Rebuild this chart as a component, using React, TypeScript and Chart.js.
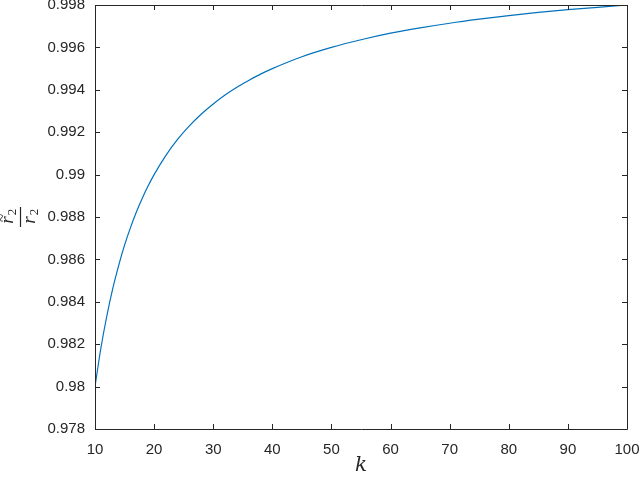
import React, { useEffect, useRef } from "react";
import { Chart, registerables } from "chart.js";

Chart.register(...registerables);

const kValues = [10, 11, 12, 13, 14, 15, 16, 17, 18, 19, 20, 22, 24, 26, 28, 30, 32, 34, 36, 38, 40, 45, 50, 55, 60, 65, 70, 75, 80, 85, 90, 95, 100];
const ratioValues = [0.98, 0.98182, 0.98333, 0.98462, 0.98571, 0.98667, 0.9875, 0.98824, 0.98889, 0.98947, 0.99, 0.99091, 0.99167, 0.99231, 0.99286, 0.99333, 0.99375, 0.99412, 0.99444, 0.99474, 0.995, 0.99556, 0.996, 0.99636, 0.99667, 0.99692, 0.99714, 0.99733, 0.9975, 0.99765, 0.99778, 0.99789, 0.998];
const xTicks = [10, 20, 30, 40, 50, 60, 70, 80, 90, 100];
const yTicks = [0.978, 0.98, 0.982, 0.984, 0.986, 0.988, 0.99, 0.992, 0.994, 0.996, 0.998];

const AXIS_COLOR = "#262626";
const TICK_FONT = "'Liberation Sans', Arial, sans-serif";

const boxPlugin = {
  id: "matlabBox",
  afterDraw(chart: any) {
    const { ctx, chartArea } = chart;
    const { left, right, top, bottom } = chartArea;
    const xs = chart.scales.x;
    const ys = chart.scales.y;
    ctx.save();
    ctx.strokeStyle = AXIS_COLOR;
    ctx.lineWidth = 1;
    ctx.beginPath();
    ctx.rect(Math.round(left) + 0.5, Math.round(top) + 0.5, Math.round(right - left), Math.round(bottom - top));
    ctx.stroke();
    const tl = 5;
    ctx.beginPath();
    xTicks.forEach((t) => {
      const px = Math.round(xs.getPixelForValue(t)) + 0.5;
      ctx.moveTo(px, bottom);
      ctx.lineTo(px, bottom - tl);
      ctx.moveTo(px, top);
      ctx.lineTo(px, top + tl);
    });
    yTicks.forEach((t) => {
      const py = Math.round(ys.getPixelForValue(t)) + 0.5;
      ctx.moveTo(left, py);
      ctx.lineTo(left + tl, py);
      ctx.moveTo(right, py);
      ctx.lineTo(right - tl, py);
    });
    ctx.stroke();

    // x label
    ctx.fillStyle = AXIS_COLOR;
    ctx.font = "italic 20px 'DejaVu Serif', 'Liberation Serif', serif";
    ctx.textAlign = "center";
    ctx.textBaseline = "middle";
    ctx.fillText("k", (left + right) / 2, 466);

    // y label: fraction r̃2 / r2 rotated
    const cy = (top + bottom) / 2;
    ctx.translate(20, cy);
    ctx.rotate(-Math.PI / 2);
    ctx.textBaseline = "alphabetic";
    ctx.textAlign = "center";
    // numerator
    ctx.font = "italic 19px 'Liberation Serif', serif";
    ctx.fillText("r", -3, -7);
    ctx.font = "15px 'Liberation Serif', serif";
    ctx.fillText("~", -1, -13);
    ctx.font = "13px 'Liberation Serif', serif";
    ctx.fillText("2", 5, -4);
    // denominator
    ctx.font = "italic 19px 'Liberation Serif', serif";
    ctx.fillText("r", -3, 15);
    ctx.font = "13px 'Liberation Serif', serif";
    ctx.fillText("2", 5, 18);
    ctx.beginPath();
    ctx.moveTo(-10, 0.5);
    ctx.lineTo(10, 0.5);
    ctx.lineWidth = 1.2;
    ctx.stroke();
    ctx.restore();
  },
};

export default function App() {
  const ref = useRef<HTMLCanvasElement | null>(null);
  useEffect(() => {
    if (!ref.current) return;
    const chart = new Chart(ref.current, {
      type: "line",
      data: {
        datasets: [
          {
            data: kValues.map((k, i) => ({ x: k, y: ratioValues[i] })),
            borderColor: "#0072BD",
            borderWidth: 1.2,
            pointRadius: 0,
            cubicInterpolationMode: "monotone",
            fill: false,
          },
        ],
      },
      options: {
        animation: false,
        responsive: true,
        maintainAspectRatio: false,
        layout: { padding: { top: 5, right: 13, left: 0, bottom: 0 } },
        plugins: { legend: { display: false }, tooltip: { enabled: false } },
        scales: {
          x: {
            type: "linear",
            min: 10,
            max: 100,
            grid: { display: false, drawTicks: false },
            border: { display: false },
            afterBuildTicks: (s: any) => {
              s.ticks = xTicks.map((v) => ({ value: v }));
            },
            afterFit: (s: any) => {
              s.height = 50;
              s.paddingLeft = 0;
              s.paddingRight = 0;
            },
            ticks: {
              color: AXIS_COLOR,
              padding: 12,
              maxRotation: 0,
              font: { family: TICK_FONT, size: 15 },
              callback: (v: any) => String(v),
            },
          },
          y: {
            type: "linear",
            min: 0.978,
            max: 0.998,
            grid: { display: false, drawTicks: false },
            border: { display: false },
            afterBuildTicks: (s: any) => {
              s.ticks = yTicks.map((v) => ({ value: v }));
            },
            afterFit: (s: any) => {
              s.width = 95;
              s.paddingTop = 0;
              s.paddingBottom = 0;
            },
            ticks: {
              color: AXIS_COLOR,
              padding: 10,
              font: { family: TICK_FONT, size: 15 },
              callback: (v: any) => String(Number(Number(v).toFixed(3))),
            },
          },
        },
      },
      plugins: [boxPlugin],
    } as any);
    return () => chart.destroy();
  }, []);
  return (
    <div style={{ position: "fixed", left: 0, top: 0, width: 640, height: 479, background: "#fff" }}>
      <canvas ref={ref} />
    </div>
  );
}
